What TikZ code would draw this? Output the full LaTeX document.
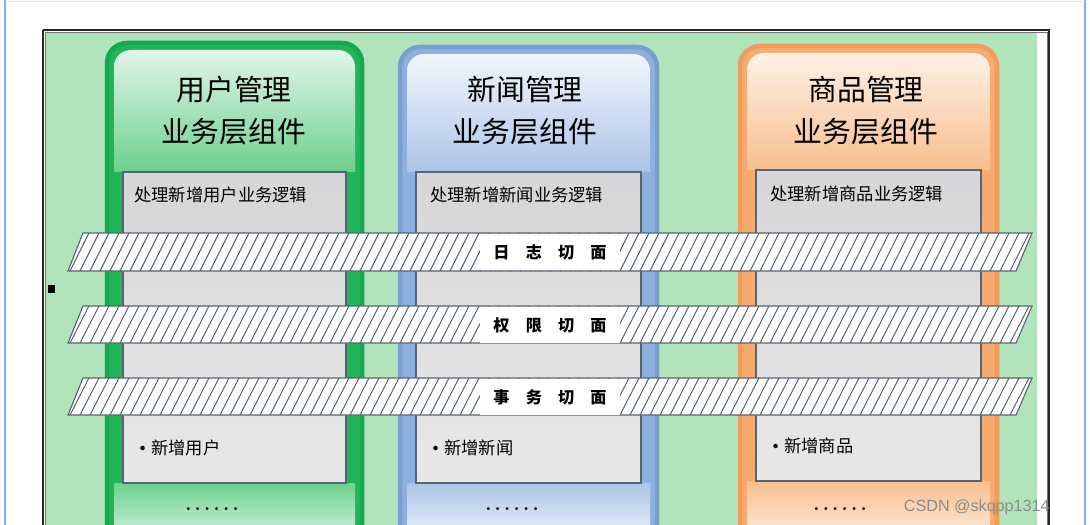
\documentclass[tikz,border=0pt]{standalone}
\usepackage{fontspec}
\newfontfamily\cjk{Noto Sans CJK SC}
\newfontfamily\wmfont{Liberation Sans}
\definecolor{bggreen}{RGB}{178,228,188}
\definecolor{gBorder}{RGB}{22,168,78}
\definecolor{gStrip}{RGB}{34,180,88}
\definecolor{gTop}{RGB}{226,245,232}
\definecolor{gBot}{RGB}{108,208,142}
\definecolor{bBorder}{RGB}{122,158,208}
\definecolor{bStrip}{RGB}{142,176,222}
\definecolor{bTop}{RGB}{242,246,252}
\definecolor{bBot}{RGB}{172,196,232}
\definecolor{oBorder}{RGB}{242,156,90}
\definecolor{oStrip}{RGB}{246,172,112}
\definecolor{oTop}{RGB}{253,241,230}
\definecolor{oBot}{RGB}{248,190,142}
\definecolor{boxTop}{RGB}{214,214,216}
\definecolor{boxBot}{RGB}{232,232,232}
\definecolor{boxLine}{RGB}{88,100,116}
\definecolor{hatch}{RGB}{78,88,100}
\definecolor{frameblue}{RGB}{122,176,232}
\tikzset{
  titletext/.style={align=center,font=\cjk\fontsize{20.5}{30}\selectfont,text=black},
  innertext/.style={anchor=west,font=\cjk\fontsize{12.3}{14}\selectfont,text=black,inner sep=0pt},
  bandlabel/.style={fill=white,inner sep=0pt,minimum width=3.5cm,minimum height=0.88cm,font=\cjk\bfseries\fontsize{11.5}{13}\selectfont},
  dotstext/.style={font=\bfseries\fontsize{14}{14}\selectfont,inner sep=0pt},
  bandedge/.style={draw=boxLine,line width=0.8pt},
  hatchline/.style={draw=hatch,line width=0.65pt},
}
% #1 x1, #2 x2, #3 ytop, #4 prefix colour (g/b/o), #5 gray top, #6 gray bottom
\newcommand\mycolumn[6]{%
  \filldraw[fill=#4Strip,draw=#4Border,line width=3.2pt,rounded corners=0.5cm]
    (#1,545) -- (#1,#3) -- (#2,#3) -- (#2,545);
  \begin{scope}
    \clip[rounded corners=0.42cm] ({#1+7},{#3+7}) rectangle ({#2-7},{#5+60});
    \shade[top color=#4Top,bottom color=#4Bot] ({#1+7},{#3+7}) rectangle ({#2-7},#5);
  \end{scope}
  \shade[top color=#4Bot,bottom color=#4Top]
    ({#1+7},{#6}) rectangle ({#2-7},545);
  \shade[top color=boxTop,bottom color=boxBot] ({#1+16},#5) rectangle ({#2-16},#6);
  \draw[draw=boxLine,line width=0.8pt] ({#1+16},#5) rectangle ({#2-16},#6);
}
% band: #1 top y, #2 bottom y
\newcommand\myband[2]{%
  \fill[white] (83,#1) -- (1032,#1) -- (1016,#2) -- (68,#2) -- cycle;
  \begin{scope}
    \clip (83,#1) -- (1032,#1) -- (1016,#2) -- (68,#2) -- cycle;
    \foreach \hx in {40,50,...,1060} {
      \draw[hatchline] (\hx,#2) -- ({\hx+19},#1);
    }
  \end{scope}
  \draw[bandedge] (83,#1) -- (1032,#1) -- (1016,#2) -- (68,#2) -- cycle;
}
\newcommand\mybul{\raisebox{-1.2pt}{\fontsize{15}{14}\selectfont\textbullet}\kern-1.5pt}
\begin{document}
\begin{tikzpicture}[x=0.025cm,y=-0.025cm]
\useasboundingbox (0,0) rectangle (1090,525);
\fill[white] (0,0) rectangle (1090,525);
% outer page frame
\draw[frameblue,line width=1pt] (5,0) -- (5,525);
\draw[frameblue,line width=1pt] (1085,0) -- (1085,525);
\draw[black!12,line width=0.6pt] (5,1) -- (1085,1);
% diagram frame
\fill[bggreen] (45,32) rectangle (1037,545);
\draw[black!55,line width=0.7pt] (45,32) -- (1047,32) -- (1047,545);
\draw[black!55,line width=0.7pt] (45,32) -- (45,545);
\draw[black!85,line width=1.4pt] (43,30) -- (1049,30) -- (1049,545);
\draw[black!85,line width=1.4pt] (43,30) -- (43,545);
\fill[black] (48,285) rectangle (55,293);
% columns
\mycolumn{107}{362}{43}{g}{172}{483}
\mycolumn{400}{657}{47}{b}{172}{483}
\mycolumn{740}{997}{46}{o}{170}{481}
% titles
\node[titletext] (t1) at (234,111) {用户管理\\业务层组件};
\node[titletext] (t2) at (525,111) {新闻管理\\业务层组件};
\node[titletext] (t3) at (866,111) {商品管理\\业务层组件};
% inner texts
\node[innertext] (l1) at (134,195) {处理新增用户业务逻辑};
\node[innertext] (l2) at (430,195) {处理新增新闻业务逻辑};
\node[innertext] (l3) at (770,194) {处理新增商品业务逻辑};
\node[innertext] (m1) at (132,448) {\mybul 新增用户};
\node[innertext] (m2) at (425,448) {\mybul 新增新闻};
\node[innertext] (m3) at (765,446) {\mybul 新增商品};
\node[dotstext] (d1) at (212,509) {.\,.\,.\,.\,.\,.};
\node[dotstext] (d2) at (512,509) {.\,.\,.\,.\,.\,.};
\node[dotstext] (d3) at (840,509) {.\,.\,.\,.\,.\,.};
% bands
\myband{233}{271}
\myband{306}{343}
\myband{378}{415}
\node[bandlabel] (a1) at (550,252) {日\quad 志\quad 切\quad 面};
\node[bandlabel] (a2) at (550,325) {权\quad 限\quad 切\quad 面};
\node[bandlabel] (a3) at (550,397) {事\quad 务\quad 切\quad 面};
% watermark
\node[anchor=east,inner sep=0pt,text=black!45,font=\wmfont\fontsize{11.5}{12}\selectfont] (wm) at (1050,507) {CSDN @skqpp1314};
\end{tikzpicture}
\end{document}
